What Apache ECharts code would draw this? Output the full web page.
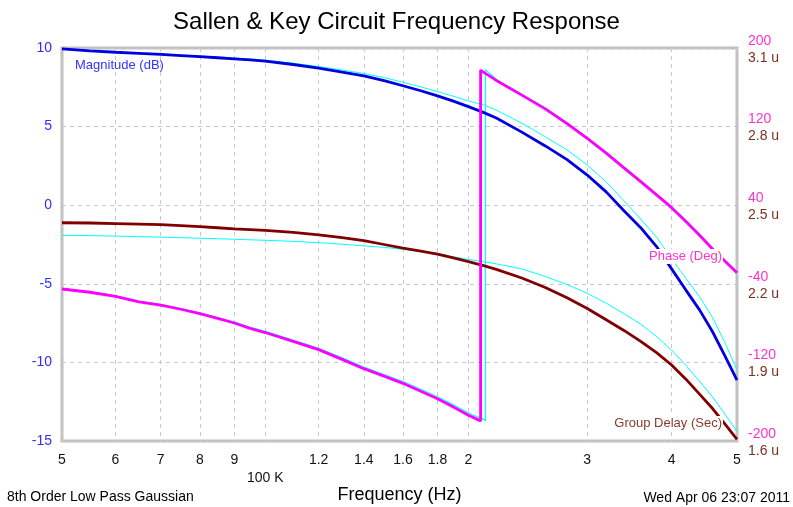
<!DOCTYPE html>
<html><head><meta charset="utf-8">
<script src="https://cdn.jsdelivr.net/npm/echarts@6/dist/echarts.min.js"></script>
<style>html,body{margin:0;padding:0;background:#fff}#c{width:793px;height:507px}</style>
</head><body><div id="c"></div>
<script>
// Frequencies in kHz
const freqK = [50,55,60,65,70,75,80,85,90,95,100,110,120,130,140,150,160,170,180,190,200,210,220,240,260,280,300,320,340,360,380,400,420,440,460,480,500];
// Magnitude (dB)
const magnitude = [9.95,9.82,9.73,9.66,9.59,9.52,9.45,9.38,9.31,9.24,9.17,8.95,8.72,8.47,8.22,7.92,7.6,7.28,6.95,6.62,6.27,5.92,5.55,4.65,3.77,2.9,1.92,0.85,-0.35,-1.43,-2.63,-4.05,-5.4,-6.66,-8.05,-9.6,-11.12];
const magnitudeRef = [9.95,9.83,9.75,9.68,9.62,9.55,9.49,9.42,9.36,9.3,9.23,9.03,8.82,8.6,8.38,8.12,7.82,7.53,7.23,6.93,6.63,6.4,6.05,5.22,4.35,3.52,2.56,1.48,0.28,-0.88,-2.03,-3.4,-4.65,-5.81,-7.15,-8.75,-10.5];
// Group delay (microseconds)
const groupDelay = [2.433,2.432,2.430,2.428,2.426,2.422,2.418,2.414,2.41,2.407,2.404,2.396,2.387,2.376,2.365,2.35,2.336,2.325,2.313,2.299,2.285,2.27,2.255,2.222,2.186,2.147,2.106,2.063,2.022,1.98,1.937,1.89,1.836,1.779,1.724,1.664,1.606];
const groupDelayRef = [2.385,2.384,2.382,2.38,2.378,2.376,2.374,2.372,2.37,2.368,2.366,2.362,2.357,2.351,2.345,2.339,2.332,2.324,2.316,2.303,2.293,2.285,2.276,2.257,2.228,2.197,2.164,2.126,2.086,2.046,1.999,1.947,1.889,1.828,1.768,1.702,1.636];
// Phase (deg), with wrap point
const phaseFreqK = [50,55,60,65,70,75,80,85,90,95,100,110,120,130,140,150,160,170,180,190,200,208.5,208.5,210,220,240,260,280,300,320,340,360,380,400,420,440,460,480,500];
const phase = [-45.3,-48.6,-52.7,-58.3,-61.6,-65.9,-70.4,-75.2,-79.9,-85.4,-89.6,-98.6,-107,-116.9,-126.4,-134,-141.3,-149.3,-157,-165.3,-173.8,-179.5,177.5,176,167,152,138,123,108,93,78,64,50.5,37.5,23.5,9.5,-4.5,-17,-28.7];
const phaseRefFreqK = [50,55,60,65,70,75,80,85,90,95,100,110,120,130,140,150,160,170,180,190,200,210,212,212,220,240,260,280,300,320,340,360,380,400,420,440,460,480,500];
const phaseRef = [-45,-48.3,-52.3,-57.8,-61,-65.2,-69.6,-74.3,-78.9,-84.3,-88.4,-97.3,-105.6,-115.4,-124.8,-132.3,-139.5,-147.4,-155,-163.2,-171.5,-177.5,-179.5,178,168,153,139,124,109,94,79,65,51.5,38.5,24.5,10.5,-3.5,-16,-28];
// Tick labels
const xTicks = [50000,60000,70000,80000,90000,100000,120000,140000,160000,180000,200000,300000,400000,500000];
const phaseTicks = [-200,-120,-40,40,120,200];
const delayTicks = [1.6,1.9,2.2,2.5,2.8,3.1];

const F = '"Liberation Sans", Arial, sans-serif';
const pairs = (xs, ys) => xs.map((x, i) => [x * 1000, ys[i]]);
const grid = {color: '#c8c8c8', type: [4, 4], width: 1};

const chart = echarts.init(document.getElementById('c'), null, {renderer: 'canvas'});
chart.setOption({
  animation: false,
  backgroundColor: '#fff',
  title: [
    {text: 'Sallen & Key Circuit Frequency Response', left: 'center', top: 10, padding: 0,
     textStyle: {fontFamily: F, fontSize: 24, fontWeight: 'normal', color: '#000'}},
    {text: '8th Order Low Pass Gaussian', left: 7, top: 490, padding: 0,
     textStyle: {fontFamily: F, fontSize: 14, fontWeight: 'normal', color: '#000'}},
    {text: 'Wed Apr 06 23:07 2011', right: 3, top: 491, padding: 0,
     textStyle: {fontFamily: F, fontSize: 14, fontWeight: 'normal', color: '#000'}}
  ],
  grid: {left: 62, right: 56, top: 48, bottom: 66, show: true, borderColor: '#c0c0c0', borderWidth: 3, backgroundColor: '#fff', outerBoundsMode: 'none', containLabel: false},
  xAxis: {
    type: 'log', logBase: 10, min: 50000, max: 500000,
    name: 'Frequency (Hz)', nameLocation: 'middle', nameGap: 45, nameMoveOverlap: false,
    nameTextStyle: {fontFamily: F, fontSize: 18, color: '#000'},
    axisLine: {show: false},
    axisTick: {show: false, customValues: xTicks},
    splitLine: {show: true, lineStyle: grid},
    axisLabel: {
      customValues: xTicks, fontFamily: F, fontSize: 14, color: '#111', margin: 10, lineHeight: 18,
      formatter: v => {
        const k = Math.round(v / 1000);
        if (k === 100) return '\n100 K';
        return k < 100 ? String(k / 10) : String(k / 100);
      }
    }
  },
  yAxis: [
    {type: 'value', min: -15, max: 10, interval: 5, position: 'left',
     axisLine: {show: false}, axisTick: {show: false},
     splitLine: {show: true, lineStyle: grid},
     axisLabel: {fontFamily: F, fontSize: 14, color: '#2f2fff', margin: 10}},
    {type: 'value', min: -200, max: 200, position: 'right',
     axisLine: {show: false}, axisTick: {show: false}, splitLine: {show: false},
     axisLabel: {customValues: phaseTicks, fontFamily: F, fontSize: 14, color: '#ff33cc', margin: 11, verticalAlign: 'bottom'}},
    {type: 'value', min: 1.6, max: 3.1, position: 'right',
     axisLine: {show: false}, axisTick: {show: false}, splitLine: {show: false},
     axisLabel: {customValues: delayTicks, fontFamily: F, fontSize: 14, color: '#7a3020', margin: 11, verticalAlign: 'top', padding: [3, 0, 0, 0],
       formatter: v => v.toFixed(1) + ' u'}}
  ],
  series: [
    {name: 'MagRef', type: 'line', yAxisIndex: 0, data: pairs(freqK, magnitudeRef), showSymbol: false, lineStyle: {color: '#00ffff', width: 1}, z: 2},
    {name: 'DelayRef', type: 'line', yAxisIndex: 2, data: pairs(freqK, groupDelayRef), showSymbol: false, lineStyle: {color: '#00ffff', width: 1}, z: 2},
    {name: 'PhaseRef', type: 'line', yAxisIndex: 1, data: pairs(phaseRefFreqK, phaseRef), showSymbol: false, lineStyle: {color: '#00ffff', width: 1.2}, z: 2},
    {name: 'Magnitude', type: 'line', yAxisIndex: 0, data: pairs(freqK, magnitude), showSymbol: false, lineStyle: {color: '#0000e0', width: 2.8}, z: 3},
    {name: 'Group Delay', type: 'line', yAxisIndex: 2, data: pairs(freqK, groupDelay), showSymbol: false, lineStyle: {color: '#800000', width: 2.8}, z: 3},
    {name: 'Phase', type: 'line', yAxisIndex: 1, data: pairs(phaseFreqK, phase), showSymbol: false, lineStyle: {color: '#ff00ff', width: 2.8}, z: 4}
  ],
  graphic: [
    {type: 'text', left: 75, top: 59, z: 100, style: {text: 'Magnitude (dB)', fill: '#3333ff', font: '13px ' + F}},
    {type: 'text', right: 70, top: 249, z: 100, style: {text: 'Phase (Deg)', fill: '#ff33cc', font: '13px ' + F, backgroundColor: '#fff', padding: [1, 1, 1, 1]}},
    {type: 'text', right: 70, top: 416, z: 100, style: {text: 'Group Delay (Sec)', fill: '#8b3a2a', font: '13px ' + F, backgroundColor: '#fff', padding: [1, 1, 1, 1]}}
  ]
});
</script></body></html>
